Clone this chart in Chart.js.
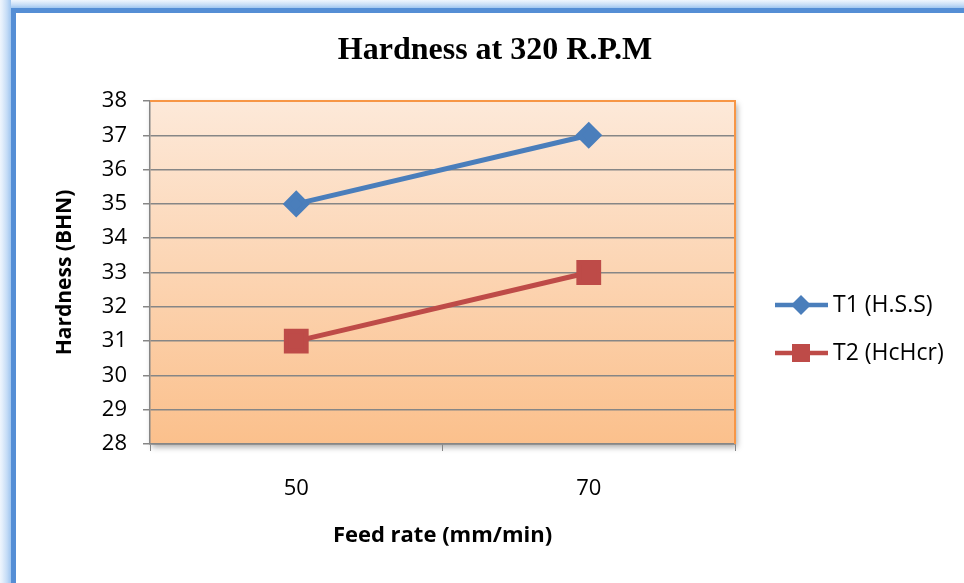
<!DOCTYPE html>
<html>
<head>
<meta charset="utf-8">
<script src="https://cdn.jsdelivr.net/npm/chart.js@4.4.1/dist/chart.umd.min.js"></script>
<style>
  html, body { margin: 0; padding: 0; background: #fff; }
  #wrap { width: 964px; height: 583px; position: relative; }
</style>
</head>
<body>
<div id="wrap"><canvas id="chart" width="964" height="583"></canvas></div>
<script>
// données
const feedRates = ['50', '70'];
const hss = [35, 37];
const hcHcr = [31, 33];
const seriesNames = ['T1 (H.S.S)', 'T2 (HcHcr)'];
const titleText = 'Hardness at 320 R.P.M';
const yTitle = 'Hardness (BHN)';
const xTitle = 'Feed rate (mm/min)';

const FONT = "'Open Sans', 'Noto Sans', sans-serif";

// cadre bleu, fond dégradé de la zone de tracé, titre et légende
const decor = {
  id: 'decor',
  beforeDraw(chart) {
    const c = chart.ctx;
    const a = chart.chartArea;
    c.save();
    // lueur + cadre bleu
    const glow = c.createLinearGradient(0, 0, 11, 0);
    glow.addColorStop(0, 'rgba(200,222,248,0.3)');
    glow.addColorStop(1, 'rgba(160,198,240,1)');
    c.fillStyle = glow;
    c.fillRect(0, 0, 11, 583);
    const glowT = c.createLinearGradient(0, 0, 0, 8);
    glowT.addColorStop(0, 'rgba(200,222,248,0.3)');
    glowT.addColorStop(1, 'rgba(160,198,240,1)');
    c.fillStyle = glowT;
    c.fillRect(11, 0, 953, 8);
    c.fillStyle = '#558ed5';
    c.fillRect(11, 8, 953, 5);
    c.fillRect(11, 8, 5, 575);
    // ombre de la zone de tracé
    c.shadowColor = 'rgba(0,0,0,0.35)';
    c.shadowBlur = 6;
    c.shadowOffsetX = 2;
    c.shadowOffsetY = 3;
    const g = c.createLinearGradient(0, a.top, 0, a.bottom);
    g.addColorStop(0, '#fde9d9');
    g.addColorStop(1, '#fbc08c');
    c.fillStyle = g;
    c.fillRect(a.left, a.top, a.right - a.left, a.bottom - a.top);
    c.restore();
  },
  beforeDatasetsDraw(chart) {
    const c = chart.ctx;
    const a = chart.chartArea;
    c.save();
    c.strokeStyle = '#f79646';
    c.lineWidth = 2;
    c.beginPath();
    c.moveTo(a.left, a.top);
    c.lineTo(a.right, a.top);
    c.lineTo(a.right, a.bottom);
    c.stroke();
    c.restore();
  },
  afterDraw(chart) {
    const c = chart.ctx;
    c.save();
    c.fillStyle = '#000';
    c.font = "bold 32px 'Liberation Serif', 'Times New Roman', serif";
    c.textAlign = 'center';
    c.textBaseline = 'middle';
    c.fillText(titleText, 495, 51);
    // légende
    c.font = '23px ' + FONT;
    c.textAlign = 'left';
    const rows = [305, 353];
    chart.data.datasets.forEach((ds, i) => {
      const y = rows[i];
      c.strokeStyle = ds.borderColor;
      c.lineWidth = 4.5;
      c.beginPath();
      c.moveTo(775, y);
      c.lineTo(828, y);
      c.stroke();
      c.fillStyle = ds.backgroundColor;
      c.beginPath();
      if (ds.pointStyle === 'rectRot') {
        c.moveTo(801, y - 10); c.lineTo(811, y); c.lineTo(801, y + 10); c.lineTo(791, y);
      } else {
        c.rect(792, y - 9, 18, 18);
      }
      c.closePath();
      c.fill();
      c.fillStyle = '#000';
      c.fillText(ds.label, 833, y);
    });
    c.restore();
  }
};

const ctx = document.getElementById('chart').getContext('2d');
const chart = new Chart(ctx, {
  type: 'line',
  data: {
    labels: feedRates,
    datasets: [
      {
        label: seriesNames[0],
        data: hss,
        borderColor: '#4a7ebb',
        backgroundColor: '#4a7ebb',
        borderWidth: 5,
        pointStyle: 'rectRot',
        pointRadius: 10,
        pointHoverRadius: 10,
        fill: false
      },
      {
        label: seriesNames[1],
        data: hcHcr,
        borderColor: '#be4b48',
        backgroundColor: '#be4b48',
        borderWidth: 5,
        pointStyle: 'rect',
        pointRadius: 14,
        pointHoverRadius: 14,
        fill: false
      }
    ]
  },
  plugins: [decor],
  options: {
    responsive: false,
    animation: false,
    events: [],
    layout: { padding: { left: 0, top: 101, right: 229, bottom: 34 } },
    plugins: {
      legend: { display: false },
      title: { display: false },
      tooltip: { enabled: false }
    },
    scales: {
      x: {
        offset: true,
        afterFit: s => { s.height = 105; },
        grid: { offset: true, drawOnChartArea: false, tickLength: 7, color: '#868686' },
        border: { color: '#868686', width: 1.5 },
        ticks: { color: '#000', padding: 25, font: { family: FONT, size: 22 } },
        title: { display: true, text: xTitle, color: '#000', padding: { top: 0, bottom: 0 }, font: { family: FONT, size: 22, weight: 'bold' } }
      },
      y: {
        min: 28,
        max: 38,
        afterFit: s => { s.width = 150; },
        grid: { tickLength: 7, color: '#868686', lineWidth: 1.5 },
        border: { color: '#868686', width: 1.5 },
        ticks: { stepSize: 1, color: '#000', padding: 16, font: { family: FONT, size: 22 } },
        title: { display: true, text: yTitle, color: '#000', padding: { top: 52, bottom: 0 }, font: { family: FONT, size: 21, weight: 'bold' } }
      }
    }
  }
});
</script>
</body>
</html>
